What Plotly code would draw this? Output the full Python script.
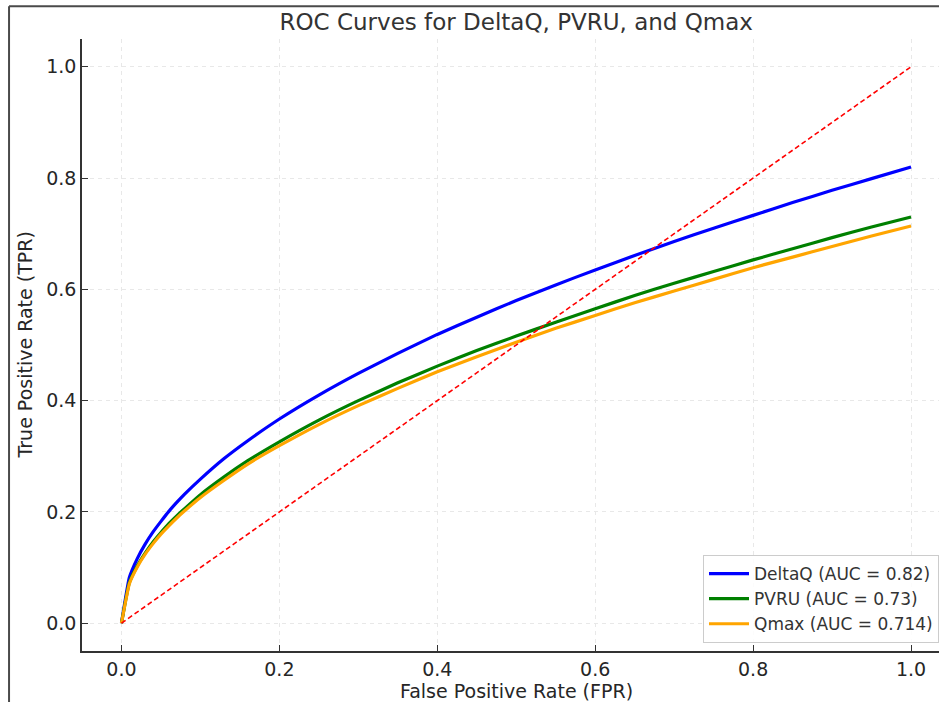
import plotly.graph_objects as go

# ---- data ----
fpr = [0, 0.01, 0.02, 0.03, 0.04, 0.05, 0.06, 0.07, 0.08, 0.1, 0.13, 0.16, 0.2, 0.25, 0.3,
       0.35, 0.4, 0.45, 0.5, 0.55, 0.6, 0.65, 0.7, 0.75, 0.8, 0.85, 0.9, 0.95, 1.0]
tpr_deltaq = [0, 0.082, 0.116, 0.142, 0.164, 0.183, 0.201, 0.217, 0.232, 0.259, 0.296,
              0.328, 0.367, 0.41, 0.449, 0.485, 0.519, 0.55, 0.58, 0.608, 0.635, 0.661,
              0.686, 0.71, 0.733, 0.756, 0.778, 0.799, 0.82]
tpr_pvru = [0, 0.073, 0.103, 0.126, 0.146, 0.163, 0.179, 0.193, 0.206, 0.231, 0.263,
            0.292, 0.326, 0.365, 0.400, 0.432, 0.462, 0.490, 0.516, 0.541, 0.565, 0.589,
            0.611, 0.632, 0.653, 0.673, 0.693, 0.712, 0.73]
tpr_qmax = [0, 0.071, 0.101, 0.124, 0.143, 0.160, 0.175, 0.189, 0.202, 0.226, 0.257,
            0.286, 0.319, 0.357, 0.391, 0.422, 0.452, 0.479, 0.505, 0.530, 0.553, 0.576,
            0.597, 0.618, 0.639, 0.658, 0.677, 0.696, 0.714]
diag_x = [0, 1]
diag_y = [0, 1]
series_names = ["DeltaQ (AUC = 0.82)", "PVRU (AUC = 0.73)", "Qmax (AUC = 0.714)"]
series_colors = ["#0000ff", "#008000", "#ffa500"]
tick_vals = [0, 0.2, 0.4, 0.6, 0.8, 1.0]
tick_text = ["0.0", "0.2", "0.4", "0.6", "0.8", "1.0"]

W, H = 939, 702
L, T, B = 81.5, 39.2, 651.0   # plot area pixel edges
R = 939.0
PX_PER_X = 790.0
FONT = "DejaVu Sans"
TXT = "#262626"

fig = go.Figure()
for ys, name, col in zip([tpr_deltaq, tpr_pvru, tpr_qmax], series_names, series_colors):
    fig.add_trace(go.Scatter(x=fpr, y=ys, mode="lines", name=name,
                             line=dict(color=col, width=3.2, shape="spline", smoothing=0.4)))
fig.add_trace(go.Scatter(x=diag_x, y=diag_y, mode="lines", showlegend=False,
                         line=dict(color="#ff0000", width=1.6, dash="5px,3px")))

xmax = -0.05 + (R - L) / PX_PER_X
axis_common = dict(
    tickvals=tick_vals, ticktext=tick_text, ticks="inside", ticklen=6, tickwidth=1.3,
    tickcolor="#333333", showline=True, linecolor="#333333", linewidth=1.6,
    showgrid=True, gridcolor="#e8e8e8", gridwidth=1, griddash="4px,4px",
    zeroline=False, tickfont=dict(family=FONT, size=19, color=TXT),
)
fig.update_xaxes(range=[-0.05, xmax], **axis_common)
fig.update_yaxes(range=[-0.05, 1.05], **axis_common)

ph = B - T
def px_to_paper_x(px):
    return (px - L) / (R - L)
def px_to_paper_y(py):
    return (B - py) / ph

fig.update_layout(
    width=W, height=H,
    margin=dict(l=L, r=W - R, t=T, b=H - B, pad=0),
    plot_bgcolor="white", paper_bgcolor="white",
    font=dict(family=FONT, color=TXT),
    title=dict(text="ROC Curves for DeltaQ, PVRU, and Qmax",
               x=px_to_paper_x(516), xref="paper", xanchor="center",
               y=1 - 22 / H, yref="container", yanchor="middle",
               font=dict(family=FONT, size=23, color="#333333")),
    legend=dict(x=1.0, xanchor="right", y=px_to_paper_y(643), yanchor="bottom",
                bgcolor="rgba(255,255,255,0.85)", bordercolor="#cccccc", borderwidth=1,
                font=dict(family=FONT, size=17, color="#333333"),
                tracegroupgap=0, itemwidth=40),
    showlegend=True,
    annotations=[
        dict(text="False Positive Rate (FPR)", xref="paper", yref="paper",
             x=px_to_paper_x(516), y=px_to_paper_y(691), xanchor="center", yanchor="middle",
             showarrow=False, font=dict(family=FONT, size=19, color=TXT)),
        dict(text="True Positive Rate (TPR)", xref="paper", yref="paper",
             x=px_to_paper_x(24), y=0.5, xanchor="center", yanchor="middle",
             textangle=-90, showarrow=False, font=dict(family=FONT, size=19, color=TXT)),
    ],
    shapes=[
        dict(type="line", xref="paper", yref="paper",
             x0=px_to_paper_x(8.5), x1=1.02, y0=px_to_paper_y(6.5), y1=px_to_paper_y(6.5),
             line=dict(color="#4a4a4a", width=2)),
        dict(type="line", xref="paper", yref="paper",
             x0=px_to_paper_x(8.5), x1=px_to_paper_x(8.5), y0=px_to_paper_y(6.5),
             y1=px_to_paper_y(705), line=dict(color="#4a4a4a", width=2)),
    ],
)

fig.write_html("out.html", config={"displayModeBar": False},
               post_script="document.body.style.margin='0';")
